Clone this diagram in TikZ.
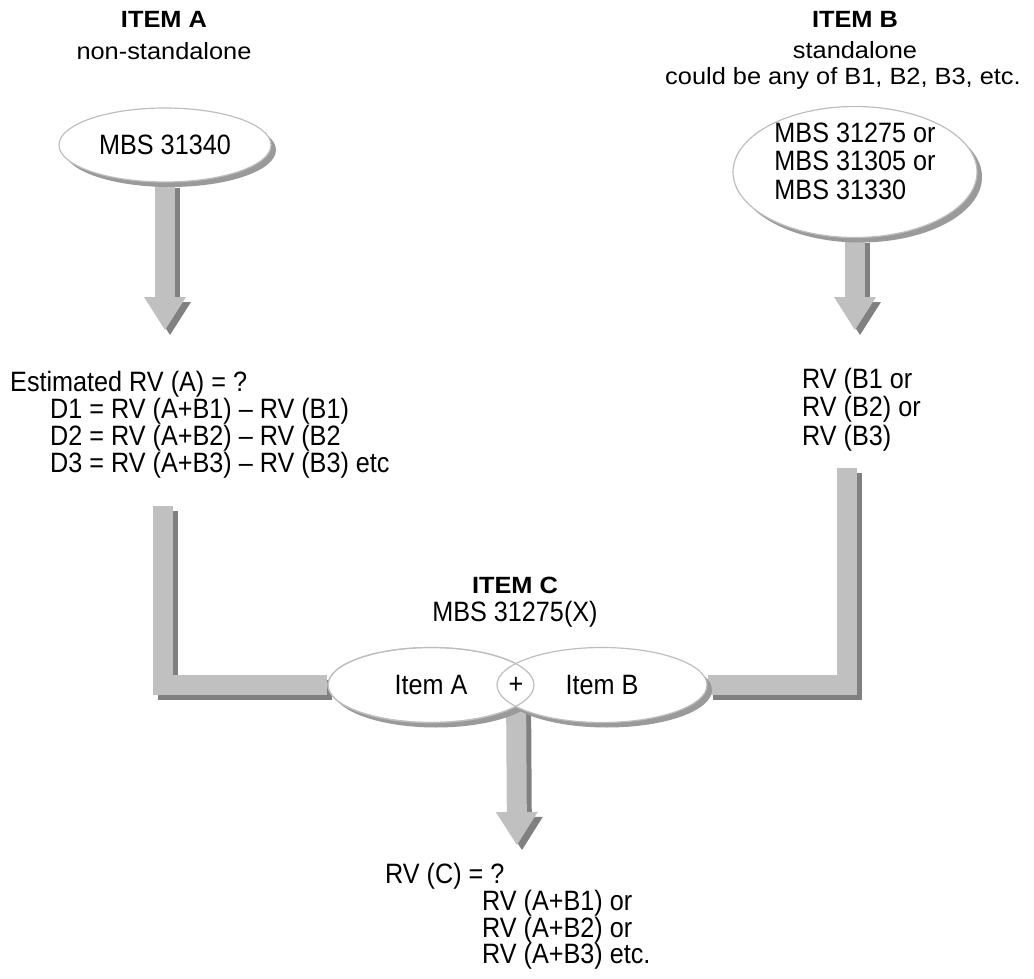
\documentclass[tikz,border=0pt]{standalone}
\usepackage{fontspec}
\setmainfont{Liberation Sans}[FakeStretch=0.9]
\newfontfamily\titlefont{Liberation Sans}[FakeStretch=1.08]
\usetikzlibrary{shapes.geometric,arrows.meta,shadows,backgrounds}
\definecolor{barfill}{HTML}{C0C0C0}
\definecolor{barshade}{HTML}{808080}
\definecolor{ellshade}{HTML}{9A9A9A}
\definecolor{rimgray}{HTML}{BEBEBE}
\begin{document}
\begin{tikzpicture}[x=1pt,y=-1pt,
    txt/.style = {inner sep=0pt,
                  font=\fontsize{28}{28.5}\selectfont},
    ttl/.style = {inner sep=0pt,
                  font=\fontsize{23.5}{32}\selectfont\titlefont},
    bubble/.style = {shape = ellipse,
                     draw = rimgray,
                     line width=1.2pt,
                     fill = white,
                     inner sep=0pt,
                     font=\fontsize{28}{28.5}\selectfont},
    shadowed/.style = {drop shadow={shadow xshift=5pt, shadow yshift=-5pt,
                                    fill=ellshade, opacity=1}},
    fatbar/.style = {line width=20pt, draw=barfill, line join=miter},
    fatarrow/.style = {fatbar, -{Triangle[width=42pt, length=33pt, line width=0pt]}},
    barshadow/.style = {draw=barshade, transform canvas={xshift=5pt, yshift=-5pt}}]
    \useasboundingbox (0,0) rectangle (1034,979);
    % titles
    \node[ttl, align=center, anchor=north] (titleA) at (164,11) {\textbf{ITEM A}\\non-standalone};
    \node[ttl, align=center, anchor=north, font=\fontsize{23.5}{31}\selectfont\titlefont] (titleB) at (855,11) {\textbf{ITEM B}\\standalone};
    \node[ttl, anchor=north] (noteB) at (843,67) {could be any of B1, B2, B3, etc.};
    \node[txt, align=center, anchor=north, font=\fontsize{28}{28}\selectfont] (titleC) at (515,577) {{\fontsize{23.5}{28}\selectfont\titlefont\bfseries ITEM C}\\MBS 31275(X)};
    % ellipses
    \node[bubble, shadowed, minimum width=212pt, minimum height=74pt] (ellA) at (165,145) {MBS 31340};
    \node[bubble, shadowed, minimum width=244pt, minimum height=131pt] (ellB) at (855,172) {};
    \node[txt, align=left] (mbsB) at ([yshift=11pt]ellB.center) {MBS 31275 or\\MBS 31305 or\\MBS 31330};
    \node[bubble, minimum width=206pt, minimum height=75pt] (cA) at (431,685) {Item A};
    \node[bubble, minimum width=210pt, minimum height=75pt] (cB) at (602,685) {Item B};
    \draw[rimgray, line width=1.2pt] (cA.center) ellipse [x radius=103, y radius=37.5];
    \node[txt] (lens) at (516,685) {+};
    % text blocks
    \node[txt, align=left, anchor=north west, font=\fontsize{28}{25.5}\selectfont] (estA) at (10,371)
        {Estimated RV (A) = ?\\
         \hspace*{40pt}D1 = RV (A+B1) – RV (B1)\\
         \hspace*{40pt}D2 = RV (A+B2) – RV (B2\\
         \hspace*{40pt}D3 = RV (A+B3) – RV (B3) etc};
    \node[txt, align=left, anchor=north west, font=\fontsize{28}{28.3}\selectfont] (rvB) at (802,368)
        {RV (B1 or\\RV (B2) or\\RV (B3)};
    \node[txt, align=left, anchor=north west, font=\fontsize{28}{26.8}\selectfont] (rvC) at (385,863)
        {RV (C) = ?\\
         \hspace*{97pt}RV (A+B1) or\\
         \hspace*{97pt}RV (A+B2) or\\
         \hspace*{97pt}RV (A+B3) etc.};
    % connectors
    \coordinate (tipA) at (165,330);
    \coordinate (tipB) at (855,330);
    \coordinate (tipC) at (517,845);
    \coordinate (lstart) at (163,506);
    \coordinate (lbend) at (163,685);
    \coordinate (rstart) at (847,468);
    \coordinate (rbend) at (847,685);
    \begin{scope}[on background layer]
        \draw[fatarrow, barshadow] (ellA) -- (tipA);
        \draw[fatarrow, barshadow] (ellB) -- (tipB);
        \draw[fatarrow, barshadow] (lens) -- (tipC);
        \draw[fatbar, barshadow] (lstart) -- (lbend) -- (cA);
        \draw[fatbar, barshadow] (rstart) -- (rbend) -- (cB);
        \draw[fatarrow] (ellA) -- (tipA);
        \draw[fatarrow] (ellB) -- (tipB);
        \draw[fatarrow] (lens) -- (tipC);
        \draw[fatbar] (lstart) -- (lbend) -- (cA);
        \draw[fatbar] (rstart) -- (rbend) -- (cB);
        \fill[ellshade, transform canvas={xshift=5pt, yshift=-5pt}] (cA.center) ellipse [x radius=103, y radius=37.5];
        \fill[ellshade, transform canvas={xshift=5pt, yshift=-5pt}] (cB.center) ellipse [x radius=105, y radius=37.5];
    \end{scope}
\end{tikzpicture}
\end{document}
